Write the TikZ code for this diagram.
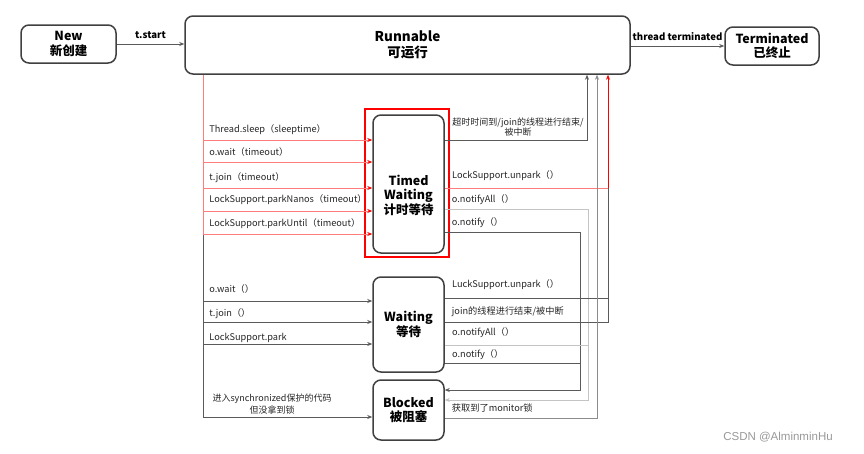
\documentclass[tikz,border=0pt]{standalone}
\usepackage{fontspec}
\setmainfont{Noto Sans CJK SC}
\newfontfamily\wmfont{Liberation Sans}
\usetikzlibrary{arrows.meta,calc}
\definecolor{boxc}{HTML}{404040}
\definecolor{dkc}{HTML}{5A5A5A}
\definecolor{mdc}{HTML}{8C8C8C}
\definecolor{lgc}{HTML}{C4C4C4}
\definecolor{pkc}{HTML}{FF7C7C}
\tikzset{
  box/.style={draw=boxc, line width=1.5pt, rounded corners=8pt, inner sep=0pt, align=center,
    font=\bfseries\fontsize{12.5}{14.5}\selectfont},
  lab/.style={font=\fontsize{9.2}{11}\selectfont, inner sep=0pt, anchor=base west, text=black!85},
  toplab/.style={font=\bfseries\fontsize{9.6}{10}\selectfont, inner sep=0pt},
  dk/.style={draw=dkc, line width=0.8pt},
  md/.style={draw=mdc, line width=0.8pt},
  lg/.style={draw=lgc, line width=0.9pt},
  pk/.style={draw=pkc, line width=0.8pt},
  rd/.style={draw=red, line width=0.9pt},
  tip/.style={-{Stealth[length=5pt,width=4pt,fill=dkc]}},
  redtip/.style={-{Stealth[length=5pt,width=4pt,color=red]}}
}
\begin{document}
\begin{tikzpicture}[x=1pt,y=-1pt]
\useasboundingbox[fill=white] (0,0) rectangle (864,453);

% state boxes
\node[box, minimum width=95pt, minimum height=38pt] (new) at (68.5,44) {New\\新创建};
\node[box, font=\bfseries\fontsize{13.5}{16}\selectfont, minimum width=445pt, minimum height=58pt] (run) at (407.5,45) {Runnable\\可运行};
\node[box, minimum width=94pt, minimum height=38pt] (term) at (772,46) {Terminated\\已终止};
\node[box, minimum width=71pt, minimum height=138pt] (tw) at (408.5,184) {};
\node[box, draw=none, anchor=center] (twt) at (408.5,195) {Timed\\Waiting\\计时等待};
\node[draw=red, line width=1.4pt, minimum width=84pt, minimum height=148pt, inner sep=0pt] (twf) at (407,183) {};
\node[box, minimum width=71pt, minimum height=95pt] (wait) at (408.5,324.5) {Waiting\\等待};
\node[box, minimum width=71pt, minimum height=60pt] (blk) at (408.5,410) {Blocked\\被阻塞};

% top connectors
\draw[dk,tip] (new.east) -- (run.west |- new.east) node[toplab, midway, above=5pt] (lstart) {t.start};
\draw[dk,tip] (run.east |- term.west) -- (term.west) node[toplab, midway, above=5pt] (lterm) {thread terminated};

% left trunk
\coordinate (lx) at (203,0);
\coordinate (a1) at (203,140);
\coordinate (a2) at (203,162);
\coordinate (a3) at (203,188);
\coordinate (a4) at (203,211);
\coordinate (a5) at (203,234);
\coordinate (b1) at (203,301);
\coordinate (b2) at (203,322);
\coordinate (b3) at (203,344);
\coordinate (c1) at (203,417);
\draw[pk] (run.south -| lx) -- (a5);
\draw[dk] (a5) -- (c1);

\foreach \p/\s/\t in {a1/7.5/{Thread.sleep（sleeptime）}, a2/6.5/{o.wait（timeout）}, a3/7.5/{t.join（timeout）}, a4/8.5/{LockSupport.parkNanos（timeout）}, a5/7.5/{LockSupport.parkUntil（timeout）}}
  \draw[pk, redtip] (\p) -- (\p -| tw.west) node[lab, pos=0, xshift=6pt, yshift=\s pt] (l\p) {\t};

\foreach \p/\s/\t in {b1/8.5/{o.wait（）}, b2/5.5/{t.join（）}, b3/4/{LockSupport.park}}
  \draw[dk, tip] (\p) -- (\p -| wait.west) node[lab, pos=0, xshift=6pt, yshift=\s pt] (l\p) {\t};

\draw[dk, tip] (c1) -- (c1 -| blk.west);
\node[lab, anchor=center, align=center, font=\fontsize{9}{12}\selectfont] (lc1) at (272,404) {进入synchronized保护的代码\\但没拿到锁};

% right side: timed waiting
\coordinate (r1) at (587,140);
\coordinate (r2) at (608,188);
\coordinate (r3) at (588,209);
\coordinate (r3b) at (588,400);
\coordinate (r4) at (580,232);
\coordinate (r4b) at (580,390);
\coordinate (s1) at (608,298);
\coordinate (s2) at (608,322);
\coordinate (s3) at (588,345);
\coordinate (s4) at (580,363);
\coordinate (t1) at (597,418);

\draw[dk, tip] (r1 -| tw.east) -- (r1) -- (r1 |- run.south);
\node[lab, anchor=center, align=center, font=\fontsize{9}{10.5}\selectfont] (lr1) at (518,127) {超时时间到/join的线程进行结束/\\被中断};

\draw[pk] (r2 -| tw.east) -- (r2) node[lab, pos=0, xshift=7pt, yshift=9.5pt] (lr2) {LockSupport.unpark（）};
\draw[rd, redtip] (r2) -- (r2 |- run.south);

\draw[lg, tip] (r3 -| tw.east) -- (r3) -- (r3b) -- (r3b -| blk.east);
\node[lab] (lr3) at ($(r3 -| tw.east)+(7,-6.5)$) {o.notifyAll（）};
\draw[dk, tip] (r4 -| tw.east) -- (r4) -- (r4b) -- (r4b -| blk.east);
\node[lab] (lr4) at ($(r4 -| tw.east)+(7,-6.5)$) {o.notify（）};

% right side: waiting
\draw[dk] (s1 -| wait.east) -- (s1) node[lab, pos=0, xshift=7pt, yshift=10.5pt] (ls1) {LuckSupport.unpark（）};
\draw[dk] (s2 -| wait.east) -- (s2) -- (r2);
\node[lab] (ls2) at ($(s2 -| wait.east)+(7,-7.5)$) {join的线程进行结束/被中断};
\draw[lg] (s3 -| wait.east) -- (s3) node[lab, pos=0, xshift=7pt, yshift=9.5pt] (ls3) {o.notifyAll（）};
\draw[dk] (s4 -| wait.east) -- (s4) node[lab, pos=0, xshift=7pt, yshift=5.5pt] (ls4) {o.notify（）};

% blocked -> runnable
\draw[md, tip] (t1 -| blk.east) -- (t1) -- (t1 |- run.south);
\node[lab] (lt1) at ($(t1 -| blk.east)+(7,-6.5)$) {获取到了monitor锁};

% watermark
\node[font=\wmfont\fontsize{11.5}{13}\selectfont, text=black!40, inner sep=0pt] (wm) at (778,437) {CSDN @AlminminHu};
\end{tikzpicture}
\end{document}
